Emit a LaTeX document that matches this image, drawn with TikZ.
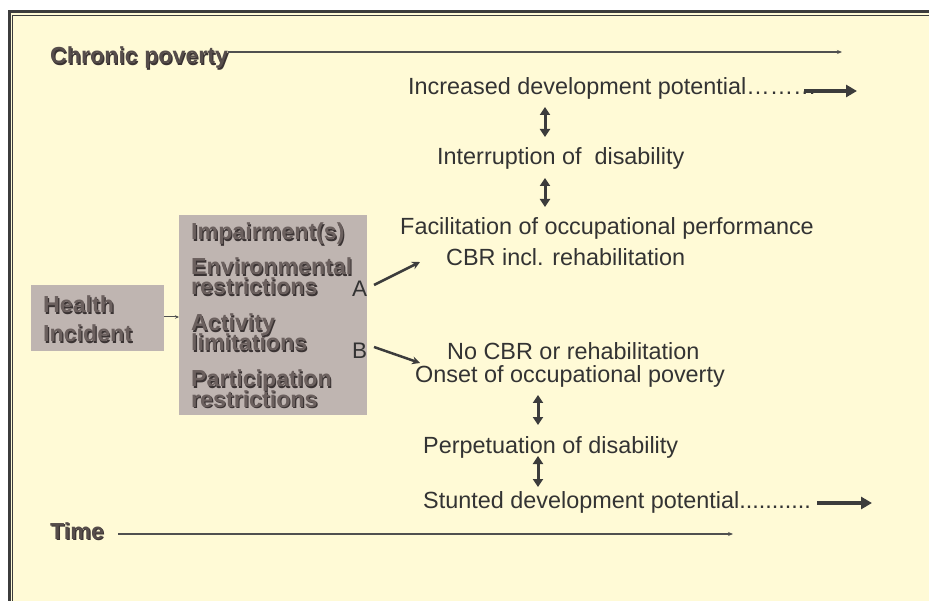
\documentclass[tikz,border=0pt]{standalone}
\usepackage{fontspec}
\setmainfont{Liberation Sans}
\usetikzlibrary{arrows.meta}
\definecolor{bgc}{HTML}{FFFAD6}
\definecolor{framec}{HTML}{3C3C3C}
\definecolor{boxc}{HTML}{BFB5B1}
\definecolor{txtc}{HTML}{333333}
\definecolor{boxtxtc}{HTML}{6B605E}
\definecolor{shadowc}{HTML}{3A3333}
\newcommand\shad[1]{\makebox[0pt][l]{\kern1.1pt\raisebox{-1.1pt}{\textcolor{shadowc}{#1}}}#1}
\tikzset{
  lbl/.style={inner sep=0pt, anchor=base west, text=txtc, font=\fontsize{23.4}{26}\selectfont},
  boldlbl/.style={inner sep=0pt, anchor=base west, text=boxtxtc, font=\fontsize{23.2}{20}\bfseries},
  greybox/.style={fill=boxc, draw=none, inner sep=0pt},
  thinarrow/.style={draw=framec!90, line width=1.2pt, -{Stealth[length=5pt,width=4pt]}},
  slantarrow/.style={draw=framec, line width=2.5pt, -{Stealth[length=8pt,width=8pt]}},
  dblarrow/.style={draw=framec, line width=3pt, {Triangle[length=8pt,width=10pt]}-{Triangle[length=8pt,width=10pt]}},
  fatarrow/.style={draw=framec, line width=4pt, -{Triangle[length=11pt,width=12pt]}},
}
\begin{document}
\begin{tikzpicture}[x=1pt,y=-1pt]
\useasboundingbox (0,0) rectangle (929,601);
% frame and background
\fill[white] (0,0) rectangle (929,601);
\fill[bgc] (8,10) rectangle (929,601);
\fill[framec] (8,10) rectangle (929,13.5);
\fill[framec] (8,10) rectangle (10.5,601);
\fill[framec] (11.5,15) rectangle (929,16);
\fill[framec] (11.5,15) rectangle (12.5,601);
% top label
\node[boldlbl, text=boxtxtc!80!black] (chron) at (50,64) {\shad{Chronic poverty}};
\coordinate (chronend) at (842,52);
\draw[thinarrow] (chron.east |- chronend) -- (chronend);
% upper branch
\node[lbl] (inc) at (408,95) {Increased development potential………};
\coordinate (incA) at (804,91);
\coordinate (incB) at (857,91);
\draw[fatarrow] (incA) -- (incB);
\node[lbl] (intr) at (437,165) {Interruption of \ disability};
\node[lbl] (fac) at (400,235) {Facilitation of occupational performance};
\node[lbl] (cbr) at (446,266) {CBR incl. rehabilitation};
\coordinate (d1a) at (545,107); \coordinate (d1b) at (545,137);
\coordinate (d2a) at (545,178); \coordinate (d2b) at (545,207);
\draw[dblarrow] (d1a) -- (d1b);
\draw[dblarrow] (d2a) -- (d2b);
% boxes
\node[greybox, minimum width=133pt, minimum height=66pt, anchor=north west] (hbox) at (31,285) {};
\node[boldlbl] (health) at (43,313) {\shad{Health}};
\node[boldlbl] (incid) at (43,342) {\shad{Incident}};
\node[greybox, minimum width=188pt, minimum height=200pt, anchor=north west] (ibox) at (179,215) {};
\draw[thinarrow, line width=1pt, -{Stealth[length=4pt,width=3.5pt]}] (hbox.east |- 0,317) -- (ibox.west |- 0,317);
\node[boldlbl] (imp) at (191,240) {\shad{Impairment(s)}};
\node[boldlbl] (env) at (191,275) {\shad{Environmental}};
\node[boldlbl] (envr) at (191,295) {\shad{restrictions}};
\node[boldlbl] (act) at (191,331) {\shad{Activity}};
\node[boldlbl] (lim) at (191,351) {\shad{limitations}};
\node[boldlbl] (par) at (191,387) {\shad{Participation}};
\node[boldlbl] (parr) at (191,407) {\shad{restrictions}};
\node[lbl, font=\fontsize{22.5}{26}\selectfont] (A) at (352,297) {A};
\node[lbl, font=\fontsize{22.5}{26}\selectfont] (B) at (352,359) {B};
\coordinate (Aend) at (420,262);
\coordinate (Bend) at (420,363);
\draw[slantarrow] (374,285) -- (Aend);
\draw[slantarrow] (374,347) -- (Bend);
% lower branch
\node[lbl] (nocbr) at (447,360) {No CBR or rehabilitation};
\node[lbl] (onset) at (415,383) {Onset of occupational poverty};
\node[lbl] (perp) at (423,453) {Perpetuation of disability};
\node[lbl] (stun) at (423,508) {Stunted development potential...........};
\coordinate (d3a) at (538,395); \coordinate (d3b) at (538,425);
\coordinate (d4a) at (538,456); \coordinate (d4b) at (538,487);
\draw[dblarrow] (d3a) -- (d3b);
\draw[dblarrow] (d4a) -- (d4b);
\coordinate (stA) at (817,503);
\coordinate (stB) at (872,503);
\draw[fatarrow] (stA) -- (stB);
% time
\node[boldlbl, text=boxtxtc!80!black] (time) at (50,539) {\shad{Time}};
\coordinate (timeA) at (118,534);
\coordinate (timeB) at (733,534);
\draw[thinarrow] (timeA) -- (timeB);
\end{tikzpicture}
\end{document}
